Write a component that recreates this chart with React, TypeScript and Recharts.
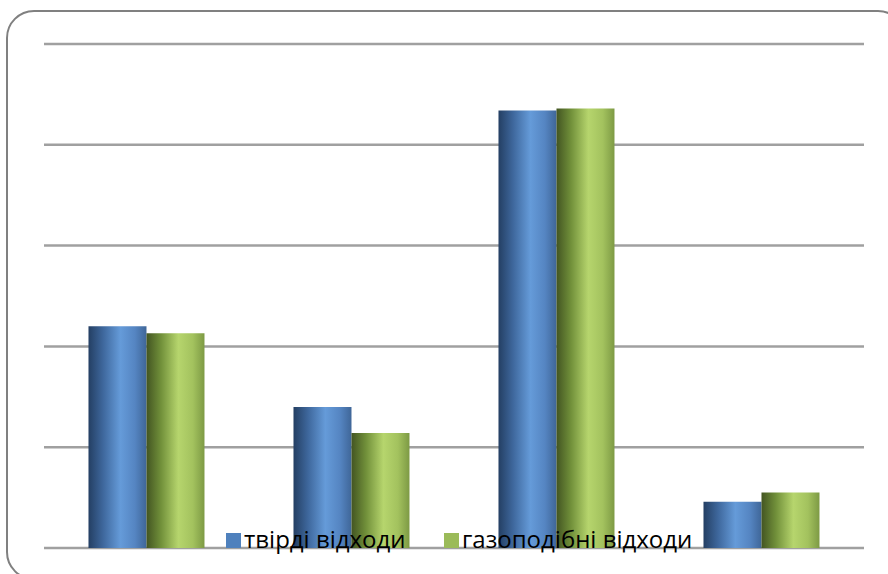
import React from "react";
import { BarChart, Bar, XAxis, YAxis, CartesianGrid } from "recharts";

const categories = ["1", "2", "3", "4"];
const solidWaste = [22.0, 14.0, 43.4, 4.6];
const gasWaste = [21.3, 11.4, 43.6, 5.5];
const yTicks = [0, 10, 20, 30, 40, 50];
const seriesNames = ["твірді відходи", "газоподібні відходи"];

const data = categories.map((c, i) => ({ name: c, solid: solidWaste[i], gas: gasWaste[i] }));

const legendItems = [
  { label: seriesNames[0], color: "#4f81bd", left: 226 },
  { label: seriesNames[1], color: "#9bbb59", left: 444 },
];

export default function App() {
  return (
    <div style={{ position: "fixed", left: 0, top: 0, width: 888, height: 574, overflow: "hidden", background: "#fff" }}>
      <div style={{ position: "absolute", left: 6, top: 10, width: 900, height: 570, border: "2px solid #808080", borderRadius: 28, boxSizing: "border-box" }} />
      <div style={{ position: "absolute", left: 0, top: 0 }}>
        <BarChart width={888} height={574} data={data} margin={{ top: 44, left: 44, right: 24, bottom: 26 }} barGap={0} barCategoryGap="21.7%">
          <defs>
            <linearGradient id="gBlue" x1="0" y1="0" x2="1" y2="0">
              <stop offset="0%" stopColor="#243f63" />
              <stop offset="25%" stopColor="#3e679c" />
              <stop offset="55%" stopColor="#659bd9" />
              <stop offset="80%" stopColor="#5585c2" />
              <stop offset="100%" stopColor="#3f6698" />
            </linearGradient>
            <linearGradient id="gGreen" x1="0" y1="0" x2="1" y2="0">
              <stop offset="0%" stopColor="#435522" />
              <stop offset="25%" stopColor="#71903a" />
              <stop offset="55%" stopColor="#b6d56d" />
              <stop offset="80%" stopColor="#a3c25e" />
              <stop offset="100%" stopColor="#7d9a44" />
            </linearGradient>
          </defs>
          <CartesianGrid vertical={false} stroke="#a0a0a0" strokeWidth={2.5} />
          <XAxis dataKey="name" hide />
          <YAxis hide domain={[0, 50]} ticks={yTicks} />
          <Bar dataKey="solid" name={seriesNames[0]} fill="url(#gBlue)" isAnimationActive={false} />
          <Bar dataKey="gas" name={seriesNames[1]} fill="url(#gGreen)" isAnimationActive={false} />
        </BarChart>
      </div>
      {legendItems.map((it) => (
        <div key={it.label} style={{ position: "absolute", left: it.left, top: 522, display: "flex", alignItems: "baseline", fontFamily: "'Open Sans', sans-serif", fontSize: 24, lineHeight: "33px", color: "#000", whiteSpace: "nowrap" }}>
          <span style={{ width: 15, height: 15, background: it.color, display: "inline-block", marginRight: 3 }} />
          <span>{it.label}</span>
        </div>
      ))}
    </div>
  );
}
